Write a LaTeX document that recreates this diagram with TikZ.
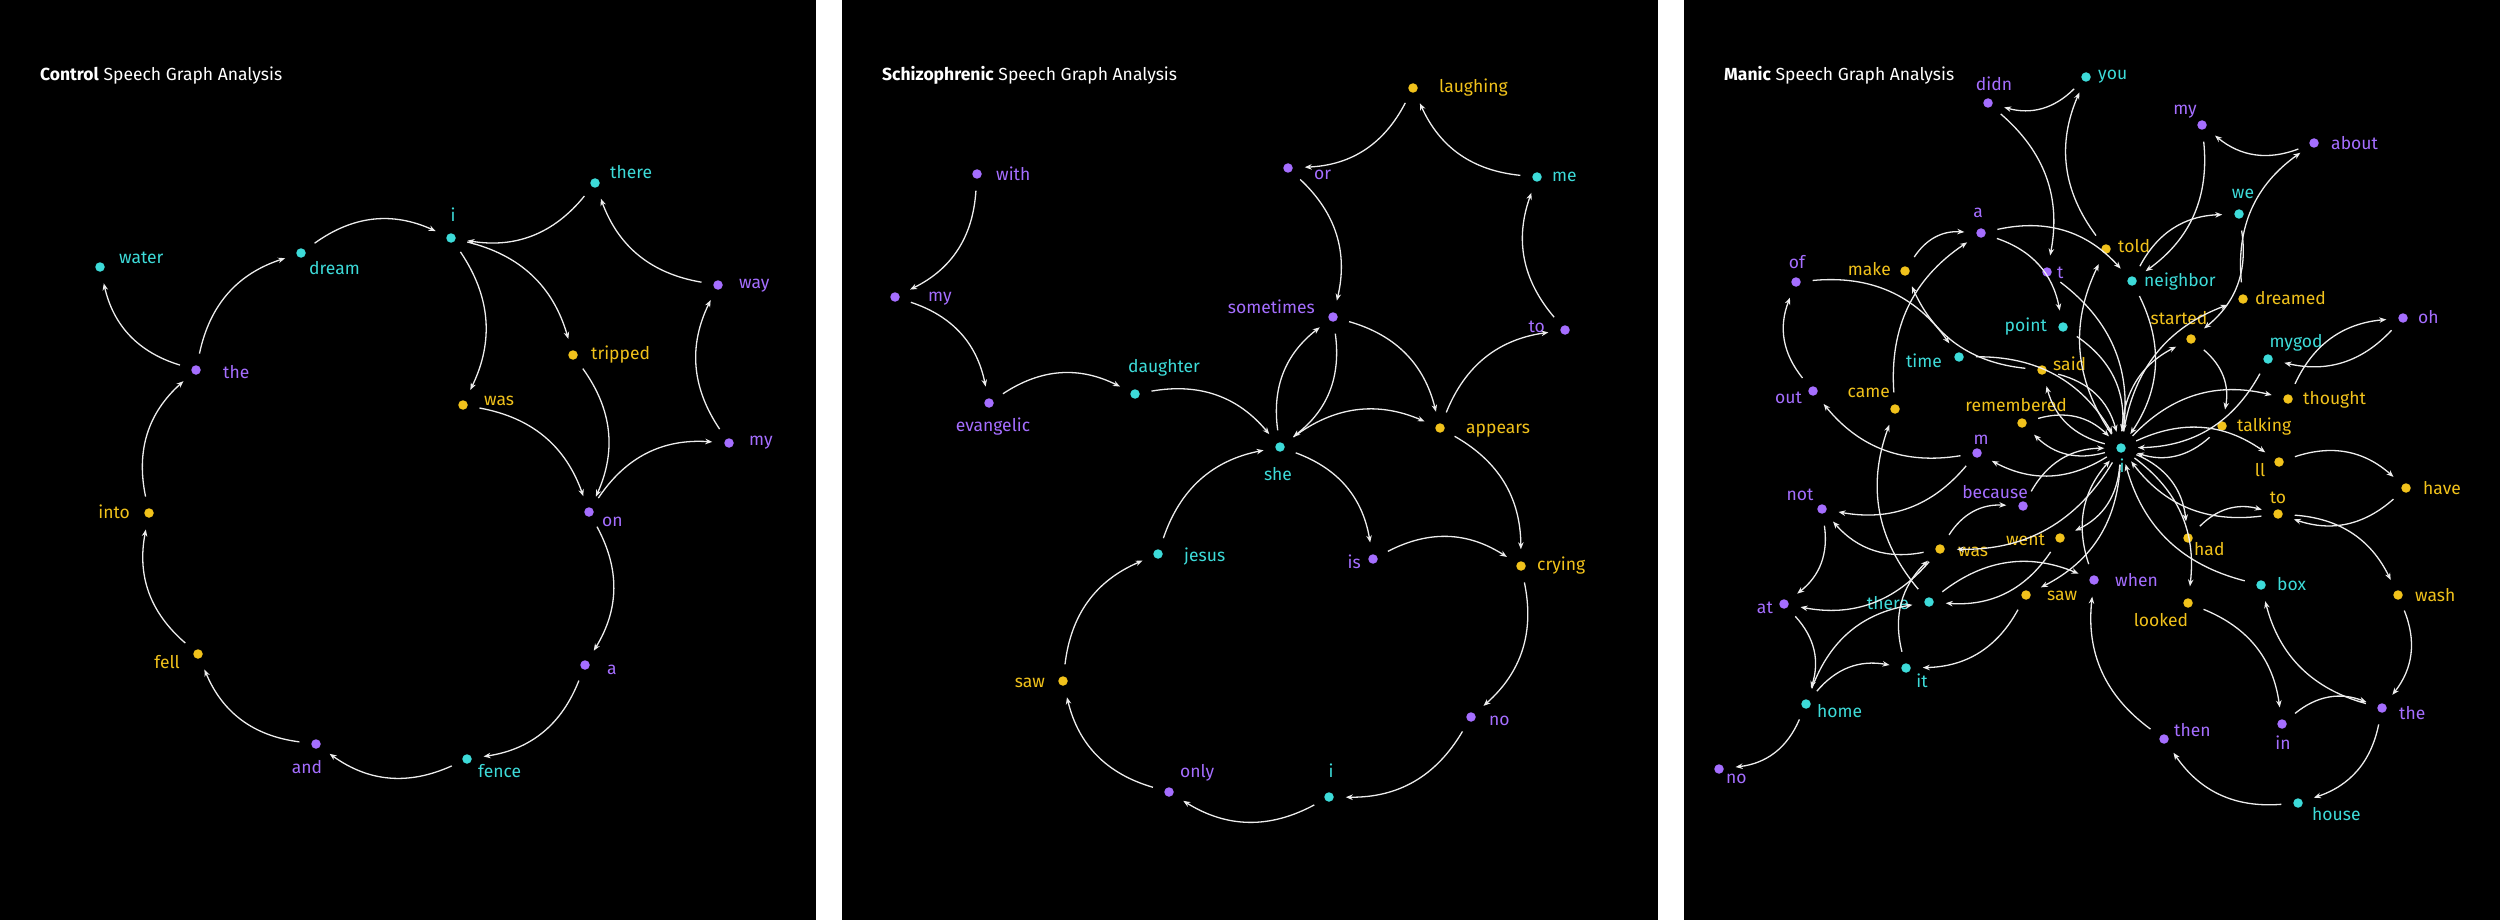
\documentclass[tikz,border=0pt]{standalone}
\usepackage{fontspec}
\setmainfont{Fira Sans}
\usetikzlibrary{arrows.meta}
\definecolor{cP}{HTML}{A56EFF}
\definecolor{cT}{HTML}{3DDBD9}
\definecolor{cY}{HTML}{F1C21B}
\definecolor{lnc}{HTML}{EDEDED}
\newcommand\wnode[6]{%
 \node[wdot,fill=#2] (#1) at (#3) {};
 \node[lbl,text=#2,anchor=#4] (#1l) at ([shift={(#5)}]#1) {#6};}
\begin{document}
\begin{tikzpicture}[x=1pt,y=-1pt,
 wdot/.style={circle,inner sep=0pt,minimum size=9.5pt,outer sep=12pt},
 lbl/.style={inner sep=0pt,font=\fontsize{17.5}{20}\selectfont},
 ttl/.style={inner sep=0pt,text=white,font=\fontsize{17.5}{20}\selectfont},
 lnk/.style={draw=lnc,line width=1.3pt,-{Stealth[length=7pt,width=5.5pt]},bend left=30}]
\useasboundingbox (0,0) rectangle (2500,920);
\fill[white] (0,0) rectangle (2500,920);
\fill[black] (0,0) rectangle (816,920);
\fill[black] (842,0) rectangle (1658,920);
\fill[black] (1684,0) rectangle (2500,920);
\node[ttl,anchor=base west] (Atitle) at (40,81) {\textbf{Control} Speech Graph Analysis};
\node[ttl,anchor=base west] (Btitle) at (882,81) {\textbf{Schizophrenic} Speech Graph Analysis};
\node[ttl,anchor=base west] (Ctitle) at (1724,81) {\textbf{Manic} Speech Graph Analysis};
% panel 1
\wnode{Athere}{cT}{595,183}{base west}{15,-4}{there}
\wnode{Ai}{cT}{451,238}{base}{2,-16}{i}
\wnode{Awater}{cT}{100,267}{base west}{19,-4}{water}
\wnode{Adream}{cT}{301,253}{base west}{8,21}{dream}
\wnode{Away}{cP}{718,285}{base west}{21,3}{way}
\wnode{Atripped}{cY}{573,355}{base west}{18,4}{tripped}
\wnode{Athe}{cP}{196,370}{base west}{27,8}{the}
\wnode{Awas}{cY}{463,405}{base west}{21,0}{was}
\wnode{Amy}{cP}{729,443}{base west}{20,2}{my}
\wnode{Aon}{cP}{589,512}{base west}{13,14}{on}
\wnode{Ainto}{cY}{149,513}{base east}{-19,5}{into}
\wnode{Afell}{cY}{198,654}{base east}{-18,14}{fell}
\wnode{Aa}{cP}{585,665}{base west}{22,9}{a}
\wnode{Aand}{cP}{316,744}{base}{-9,29}{and}
\wnode{Afence}{cT}{467,759}{base west}{11,18}{fence}
% panel 2
\wnode{Blaughing}{cY}{1413,88}{base west}{26,5}{laughing}
\wnode{Bwith}{cP}{977,174}{base west}{19,7}{with}
\wnode{Bor}{cP}{1288,168}{base west}{26,12}{or}
\wnode{Bme}{cT}{1537,177}{base west}{15,5}{me}
\wnode{Bmy}{cP}{895,297}{base west}{33,4}{my}
\wnode{Bsometimes}{cP}{1333,317}{base east}{-18,-4}{sometimes}
\wnode{Bto}{cP}{1565,330}{base east}{-20,2}{to}
\wnode{Bdaughter}{cT}{1135,394}{base}{29,-22}{daughter}
\wnode{Bevangelic}{cP}{989,403}{base}{4,28}{evangelic}
\wnode{Bappears}{cY}{1440,428}{base west}{26,5}{appears}
\wnode{Bshe}{cT}{1280,447}{base}{-2,33}{she}
\wnode{Bjesus}{cT}{1158,554}{base west}{26,7}{jesus}
\wnode{Bis}{cP}{1373,559}{base east}{-12,9}{is}
\wnode{Bcrying}{cY}{1521,566}{base west}{16,4}{crying}
\wnode{Bsaw}{cY}{1063,681}{base east}{-18,6}{saw}
\wnode{Bno}{cP}{1471,717}{base west}{18,8}{no}
\wnode{Bonly}{cP}{1169,792}{base west}{11,-15}{only}
\wnode{Bi}{cT}{1329,797}{base}{2,-20}{i}
% panel 3
\wnode{Cdidn}{cP}{1988,103}{base}{6,-12}{didn}
\wnode{Cyou}{cT}{2086,77}{base west}{12,3}{you}
\wnode{Ca}{cP}{1981,233}{base}{-3,-15}{a}
\wnode{Cmy}{cP}{2202,125}{base}{-17,-10}{my}
\wnode{Cabout}{cP}{2314,143}{base west}{17,7}{about}
\wnode{Cwe}{cT}{2239,214}{base}{4,-15}{we}
\wnode{Ctold}{cY}{2106,249}{base west}{12,3}{told}
\wnode{Cof}{cP}{1796,282}{base}{1,-14}{of}
\wnode{Cmake}{cY}{1905,271}{base east}{-14,4}{make}
\wnode{Ct}{cP}{2047,272}{base west}{10,6}{t}
\wnode{Cpoint}{cT}{2063,327}{base east}{-16,4}{point}
\wnode{Ctime}{cT}{1959,357}{base east}{-17,10}{time}
\wnode{Csaid}{cY}{2042,370}{base west}{11,0}{said}
\wnode{Cout}{cP}{1813,391}{base east}{-11,12}{out}
\wnode{Ccame}{cY}{1895,409}{base east}{-5,-12}{came}
\wnode{Cremembered}{cY}{2022,423}{base}{-6,-12}{remembered}
\wnode{Cm}{cP}{1977,453}{base}{4,-9}{m}
\wnode{Cnot}{cP}{1822,509}{base}{-22,-9}{not}
\wnode{Cbecause}{cP}{2023,506}{base}{-28,-8}{because}
\wnode{Cneighbor}{cT}{2132,281}{base west}{12,5}{neighbor}
\wnode{Cdreamed}{cY}{2243,299}{base west}{12,5}{dreamed}
\wnode{Coh}{cP}{2403,318}{base west}{15,5}{oh}
\wnode{Cstarted}{cY}{2191,339}{base}{-12,-15}{started}
\wnode{Cmygod}{cT}{2268,359}{base}{28,-12}{mygod}
\wnode{Cthought}{cY}{2288,399}{base west}{15,5}{thought}
\wnode{Ctalking}{cY}{2222,426}{base west}{15,5}{talking}
\wnode{Ci}{cT}{2121,448}{base}{1,24}{i}
\wnode{Cll}{cY}{2279,462}{base}{-19,14}{ll}
\wnode{Chave}{cY}{2406,488}{base west}{17,6}{have}
\wnode{Cto}{cY}{2278,514}{base}{0,-11}{to}
\wnode{Cwent}{cY}{2060,538}{base east}{-15,7}{went}
\wnode{Cwas}{cY}{1940,549}{base west}{18,7}{was}
\wnode{Cwhen}{cP}{2094,580}{base west}{21,6}{when}
\wnode{Csaw}{cY}{2026,595}{base west}{21,5}{saw}
\wnode{Cat}{cP}{1784,604}{base east}{-11,9}{at}
\wnode{Cthere}{cT}{1929,602}{base east}{-20,7}{there}
\wnode{Cit}{cT}{1906,668}{base}{16,19}{it}
\wnode{Chome}{cT}{1806,704}{base west}{11,13}{home}
\wnode{Cno}{cP}{1719,769}{base west}{7,14}{no}
\wnode{Chad}{cY}{2188,538}{base west}{6,17}{had}
\wnode{Cbox}{cT}{2261,585}{base west}{16,5}{box}
\wnode{Clooked}{cY}{2188,603}{base}{-27,23}{looked}
\wnode{Cwash}{cY}{2398,595}{base west}{17,6}{wash}
\wnode{Cthe}{cP}{2382,708}{base west}{17,11}{the}
\wnode{Cin}{cP}{2282,724}{base}{1,25}{in}
\wnode{Cthen}{cP}{2164,739}{base west}{10,-3}{then}
\wnode{Chouse}{cT}{2298,803}{base west}{14,17}{house}
% edges
\foreach \s/\t in {Adream/Ai, Athere/Ai, Away/Athere, Amy/Away, Aon/Amy, Ai/Awas, Ai/Atripped,
  Awas/Aon, Atripped/Aon, Aon/Aa, Aa/Afence, Afence/Aand, Aand/Afell, Afell/Ainto, Ainto/Athe,
  Athe/Awater, Athe/Adream,
  Blaughing/Bor, Bme/Blaughing, Bwith/Bmy, Bmy/Bevangelic, Bevangelic/Bdaughter, Bdaughter/Bshe,
  Bor/Bsometimes, Bto/Bme, Bappears/Bto, Bsometimes/Bshe, Bshe/Bsometimes, Bsometimes/Bappears,
  Bshe/Bappears, Bjesus/Bshe, Bshe/Bis, Bappears/Bcrying, Bis/Bcrying, Bcrying/Bno, Bno/Bi,
  Bi/Bonly, Bonly/Bsaw, Bsaw/Bjesus,
  Cyou/Cdidn, Cdidn/Ct, Ct/Ci, Ctold/Cyou, Ci/Ctold, Cmake/Ca, Ccame/Ca, Ca/Cneighbor, Ca/Cpoint,
  Cpoint/Ci, Csaid/Cmake, Ci/Csaid, Csaid/Ci, Cof/Ctime, Ctime/Ci, Cout/Cof, Cm/Cout, Cm/Cnot,
  Ci/Cm, Ci/Cremembered, Cremembered/Ci, Cbecause/Ci, Cwas/Cbecause, Cwas/Cnot, Cwas/Cat,
  Cnot/Cat, Cat/Chome, Chome/Cthere, Chome/Cit, Chome/Cno, Cit/Cwas, Csaw/Cit, Ci/Csaw,
  Ci/Cwent, Cwent/Cthere, Cthere/Ccame, Cthere/Cwhen, Cwhen/Ci, Cthen/Cwhen, Ci/Cwas, Ci/Chad,
  Chad/Cto, Chave/Cto, Cto/Cwash, Cwash/Cthe, Cthe/Cbox, Cbox/Ci, Ci/Clooked, Clooked/Cin,
  Cin/Cthe, Cthe/Chouse, Chouse/Cthen, Cto/Ci, Cll/Chave, Ci/Cll, Ctalking/Ci, Cstarted/Ctalking,
  Ci/Cstarted, Cwe/Cstarted, Cneighbor/Cwe, Cmy/Cneighbor, Cabout/Cmy, Cdreamed/Cabout,
  Ci/Cdreamed, Cneighbor/Ci, Cmygod/Ci, Coh/Cmygod, Cthought/Coh, Ci/Cthought}
  \draw[lnk] (\s) to (\t);
\end{tikzpicture}
\end{document}
